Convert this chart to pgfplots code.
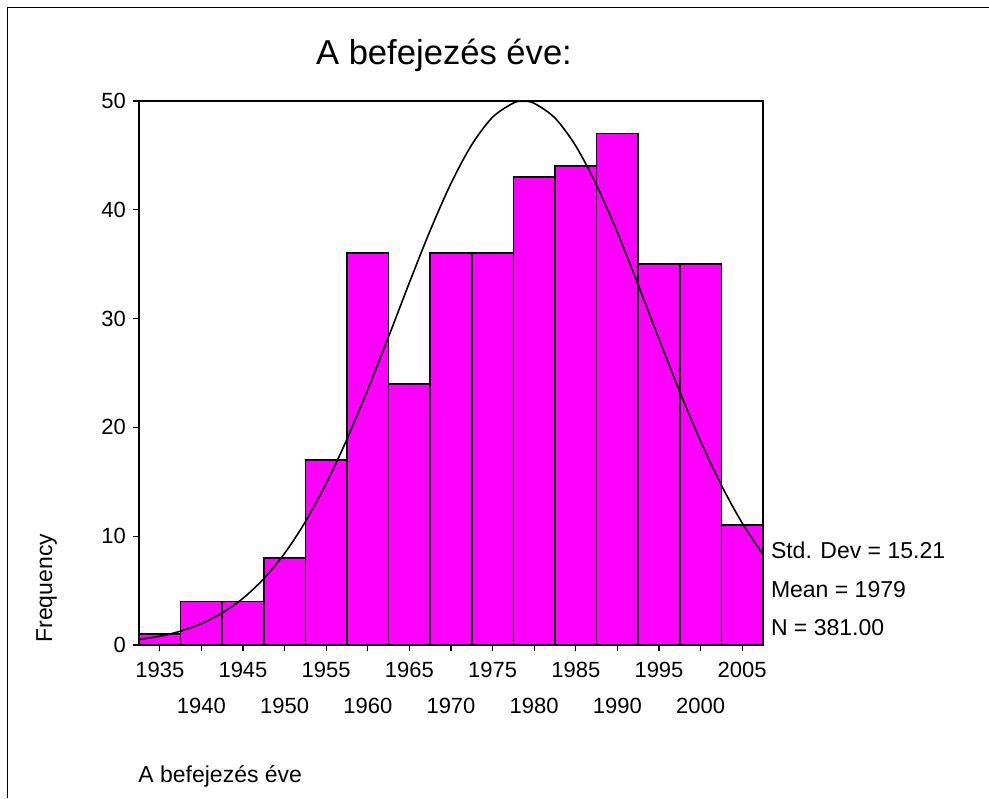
\documentclass[border=0pt]{standalone}
\usepackage{fontspec}
\setmainfont{Liberation Sans}
\usepackage{pgfplots}
\pgfplotsset{compat=1.18}
\definecolor{barmag}{RGB}{255,0,255}
\begin{document}
\begin{tikzpicture}
\useasboundingbox (0,0) rectangle (494.5pt,399pt);
\draw[line width=0.6pt] (3.75pt,0) -- (3.75pt,395.3pt) -- (494.5pt,395.3pt);
\begin{axis}[
  at={(69.5pt,76.5pt)}, anchor=south west,
  scale only axis, width=312pt, height=272pt,
  xmin=1932.5, xmax=2007.5, ymin=0, ymax=50,
  axis line style={line width=0.75pt},
  tick pos=left, tick align=outside,
  major tick length=3pt,
  tick style={black, line width=0.6pt},
  ytick={0,10,20,30,40,50},
  xtick={1935,1945,1955,1965,1975,1985,1995,2005},
  extra x ticks={1940,1950,1960,1970,1980,1990,2000},
  xticklabel style={yshift=-2pt},
  extra x tick style={xticklabel style={yshift=-18pt}},
  xticklabel={\pgfmathprintnumber[1000 sep={}]{\tick}},
  /pgf/number format/assume math mode=true,
  ticklabel style={font=\fontsize{11}{13}\selectfont},
  clip=false,
]
\addplot[ybar interval, fill=barmag, draw=black, line width=0.85pt] coordinates {
(1932.5,1) (1937.5,4) (1942.5,4) (1947.5,8) (1952.5,17) (1957.5,36) (1962.5,24)
(1967.5,36) (1972.5,36) (1977.5,43) (1982.5,44) (1987.5,47) (1992.5,35)
(1997.5,35) (2002.5,11) (2007.5,11)};
\addplot[black, line width=0.8pt, smooth, mark=none] coordinates {
(1932.5,0.496) (1935,0.806) (1937.5,1.275) (1940,1.963) (1942.5,2.943)
(1945,4.292) (1947.5,6.094) (1950,8.423) (1952.5,11.333) (1955,14.842)
(1957.5,18.917) (1960,23.468) (1962.5,28.337) (1965,33.307) (1967.5,38.106)
(1970,42.429) (1972.5,45.986) (1975,48.513) (1977.5,49.815) (1978.7,49.97)
(1980,49.788) (1982.5,48.434) (1985,45.862) (1987.5,42.269) (1990,37.921)
(1992.5,33.109) (1995,28.139) (1997.5,23.278) (2000,18.744) (2002.5,14.689)
(2005,11.205) (2007.5,8.321)};
\end{axis}
\node[anchor=base, font=\fontsize{17.3}{20}\selectfont, inner sep=0] at (222pt,366.5pt) {A befejezés éve:};
\node[anchor=base west, rotate=90, font=\fontsize{11.5}{13}\selectfont, inner sep=0] at (26pt,77.5pt) {Frequency};
\node[anchor=base west, font=\fontsize{11.5}{13}\selectfont, inner sep=0] at (69pt,8pt) {A befejezés éve};
\node[anchor=base west, font=\fontsize{11.5}{13}\selectfont, inner sep=0] at (385.3pt,120pt) {Std. Dev = 15.21};
\node[anchor=base west, font=\fontsize{11.5}{13}\selectfont, inner sep=0] at (385.3pt,100.5pt) {Mean = 1979};
\node[anchor=base west, font=\fontsize{11.5}{13}\selectfont, inner sep=0] at (385.3pt,81.5pt) {N = 381.00};
\end{tikzpicture}
\end{document}
